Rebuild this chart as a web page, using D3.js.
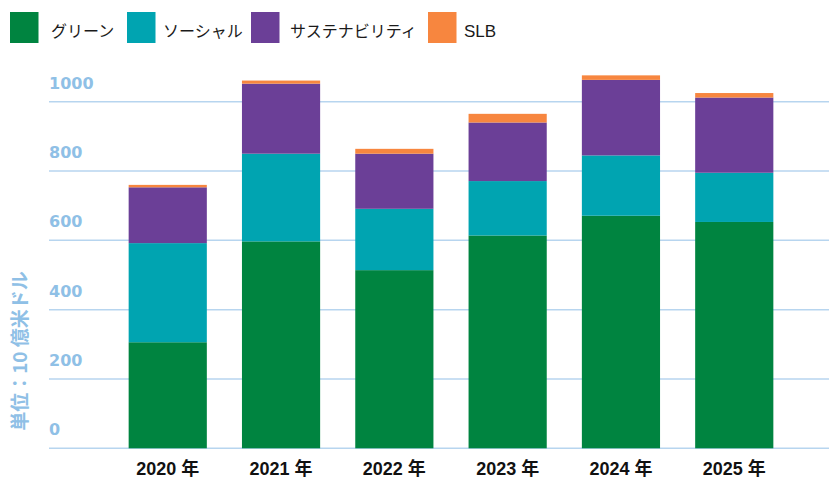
<!DOCTYPE html>
<html>
<head>
<meta charset="utf-8">
<script src="https://cdn.jsdelivr.net/npm/d3@7"></script>
<style>
  body { margin: 0; background: #fff; }
  svg { display: block; }
</style>
</head>
<body>
<div id="chart"></div>
<script>
const years = ["2020 年", "2021 年", "2022 年", "2023 年", "2024 年", "2025 年"];
const seriesNames = ["グリーン", "ソーシャル", "サステナビリティ", "SLB"];
const green = [306, 597, 514, 614, 671, 653];
const social = [286, 253, 177, 157, 174, 142];
const sustainability = [161, 202, 159, 169, 218, 217];
const slb = [7, 9, 14, 25, 13, 13];
const yTicks = [0, 200, 400, 600, 800, 1000];
const yTitle = "単位：10 億米ドル";

const colours = ["#008440", "#00a4b1", "#6b3f97", "#f7863f"];
const labelBlue = "#8fc0e6";
const gridBlue = "#b7d5ef";

const width = 829;
const height = 478;

const keys = ["green", "social", "sustainability", "slb"];
const table = years.map((y, i) => ({
    year: y,
    green: green[i],
    social: social[i],
    sustainability: sustainability[i],
    slb: slb[i]
}));

const stacked = d3.stack().keys(keys)(table);

const x = d3.scaleBand()
    .domain(years)
    .range([72, 830])
    .paddingInner(0.31)
    .paddingOuter(0.5);

const y = d3.scaleLinear()
    .domain([0, 1000])
    .range([448.3, 101.7]);

const colour = d3.scaleOrdinal(keys, colours);

const svg = d3.create("svg")
    .attr("width", width)
    .attr("height", height);

// gridlines
svg.append("g")
    .selectAll("line")
    .data(yTicks)
    .join("line")
    .attr("x1", 49)
    .attr("x2", width)
    .attr("y1", d => y(d))
    .attr("y2", d => y(d))
    .attr("stroke", gridBlue)
    .attr("stroke-width", 1.5);

// tick labels sit above their lines
svg.append("g")
    .selectAll("text")
    .data(yTicks)
    .join("text")
    .text(d => d)
    .attr("x", 49)
    .attr("y", d => y(d) - 13)
    .attr("fill", labelBlue)
    .attr("font-family", "DejaVu Sans, sans-serif")
    .attr("font-weight", "bold")
    .attr("font-size", "16px");

svg.append("text")
    .text(yTitle)
    .attr("transform", "translate(27,351) rotate(-90)")
    .attr("text-anchor", "middle")
    .attr("fill", labelBlue)
    .attr("font-family", "'Noto Sans CJK JP', sans-serif")
    .attr("font-weight", "bold")
    .attr("font-size", "19px");

// bars
svg.append("g")
    .selectAll("g")
    .data(stacked)
    .join("g")
    .attr("fill", d => colour(d.key))
    .selectAll("rect")
    .data(d => d)
    .join("rect")
    .attr("x", d => x(d.data.year))
    .attr("width", x.bandwidth())
    .attr("y", d => y(d[1]))
    .attr("height", d => y(d[0]) - y(d[1]));

// x labels
svg.append("g")
    .selectAll("text")
    .data(years)
    .join("text")
    .text(d => d)
    .attr("x", d => x(d) + x.bandwidth() / 2)
    .attr("y", 475)
    .attr("text-anchor", "middle")
    .attr("fill", "#111")
    .attr("font-family", "'Liberation Sans', 'Noto Sans CJK JP', sans-serif")
    .attr("font-weight", "bold")
    .attr("font-size", "18px");

// legend
const legendX = [10, 127, 251, 428];
const legendTextX = [51, 163, 290, 464];

const legend = svg.append("g")
    .selectAll("g")
    .data(seriesNames)
    .join("g");

legend.append("rect")
    .attr("x", (d, i) => legendX[i])
    .attr("y", 12)
    .attr("width", 28.5)
    .attr("height", 31)
    .attr("fill", (d, i) => colours[i]);

legend.append("text")
    .text(d => d)
    .attr("x", (d, i) => legendTextX[i])
    .attr("y", 36.5)
    .attr("fill", "#1a1a1a")
    .attr("font-family", "'Liberation Sans', 'Noto Sans CJK JP', sans-serif")
    .attr("font-size", (d, i) => i === 3 ? "17px" : "16px");

d3.select("#chart").node().append(svg.node());
</script>
</body>
</html>
